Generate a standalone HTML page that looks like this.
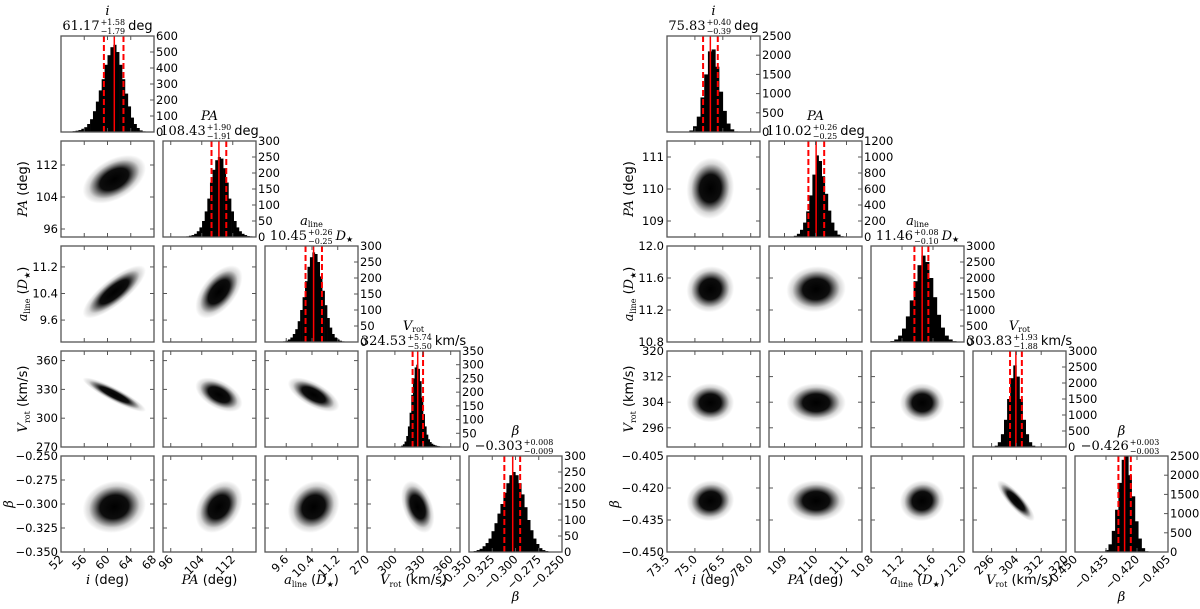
<!DOCTYPE html>
<html><head><meta charset="utf-8"><style>
html,body{margin:0;padding:0;background:#fff;}
svg{display:block;font-family:"DejaVu Sans","Liberation Sans",sans-serif;}
.serif{font-family:"DejaVu Serif","Liberation Serif",serif;}
</style></head><body>
<svg id="chart" width="1200" height="609" viewBox="0 0 1200 609" xmlns="http://www.w3.org/2000/svg">
<defs>
<radialGradient id="cloud" cx="0.5" cy="0.5" r="0.5">
<stop offset="0" stop-color="#000" stop-opacity="1"/>
<stop offset="0.45" stop-color="#000" stop-opacity="0.95"/>
<stop offset="0.62" stop-color="#000" stop-opacity="0.55"/>
<stop offset="0.8" stop-color="#000" stop-opacity="0.16"/>
<stop offset="1" stop-color="#000" stop-opacity="0"/>
</radialGradient>
</defs>
</svg>
<script>
// ===== Data: left corner plot =====
const namesL = ['i','PA','a','V','beta'];
const loL = [52, 94, 8.94, 270, -0.35];
const hiL = [68, 118, 11.83, 370, -0.25];
const ticksL = [[52,56,60,64,68],[96,104,112],[9.6,10.4,11.2],[270,300,330,360],[-0.35,-0.325,-0.3,-0.275,-0.25]];
const tickLabelsL = [['52','56','60','64','68'],['96','104','112'],['9.6','10.4','11.2'],['270','300','330','360'],['\u22120.350','\u22120.325','\u22120.300','\u22120.275','\u22120.250']];
const medL = [61.17, 108.43, 10.45, 324.53, -0.303];
const errPL = [1.58, 1.90, 0.26, 5.74, 0.008];
const errML = [1.79, 1.91, 0.25, 5.50, 0.009];
const valTextL = ['61.17','108.43','10.45','324.53','\u22120.303'];
const errPTextL = ['+1.58','+1.90','+0.26','+5.74','+0.008'];
const errMTextL = ['\u22121.79','\u22121.91','\u22120.25','\u22125.50','\u22120.009'];
const sdL = [1.7, 1.9, 0.25, 5.6, 0.0085];
const corrL = [[],[0.45],[0.8,0.55],[-0.9,-0.5,-0.65],[0.1,0.3,0.15,-0.4]];
const histLoL = [53.5, 100, 9.5, 305, -0.345];
const histHiL = [66.5, 117, 11.4, 350, -0.265];
const histL = [
 [3,5,8,12,20,30,50,80,130,190,260,330,420,480,530,545,500,420,330,240,160,90,50,25,10,4],
 [2,4,6,10,18,30,50,80,120,170,210,240,250,245,215,170,120,80,50,30,18,10,6,3,2],
 [2,4,8,14,25,40,65,100,140,190,235,265,280,275,250,205,160,115,75,45,25,14,8,4,2],
 [2,5,10,20,40,75,125,190,250,290,300,285,240,180,120,75,45,28,18,12,8,6,4,3,2],
 [3,6,10,18,28,42,65,90,120,150,185,215,240,250,240,215,180,140,100,68,42,25,12,6,3]];
const histMaxL = [600,300,300,350,300];
const histStepL = [100,50,50,50,50];

// ===== Data: right corner plot =====
const loR = [73.5, 108.5, 10.8, 290, -0.45];
const hiR = [78.5, 111.5, 12.0, 320, -0.405];
const ticksR = [[73.5,75,76.5,78],[109,110,111],[10.8,11.2,11.6,12.0],[296,304,312,320],[-0.45,-0.435,-0.42,-0.405]];
const tickLabelsR = [['73.5','75.0','76.5','78.0'],['109','110','111'],['10.8','11.2','11.6','12.0'],['296','304','312','320'],['\u22120.450','\u22120.435','\u22120.420','\u22120.405']];
const medR = [75.83, 110.02, 11.46, 303.83, -0.426];
const errPR = [0.40, 0.26, 0.08, 1.93, 0.003];
const errMR = [0.39, 0.25, 0.10, 1.88, 0.003];
const valTextR = ['75.83','110.02','11.46','303.83','\u22120.426'];
const errPTextR = ['+0.40','+0.26','+0.08','+1.93','+0.003'];
const errMTextR = ['\u22120.39','\u22120.25','\u22120.10','\u22121.88','\u22120.003'];
const sdR = [0.4, 0.3, 0.09, 1.9, 0.003];
const corrR = [[],[0.05],[0.05,0.05],[0.0,0.0,0.0],[0.05,0.0,0.05,-0.85]];
const histLoR = [74.5, 109.2, 10.95, 296, -0.437];
const histHiR = [77.3, 110.9, 11.95, 311, -0.4146];
const histR = [
 [10,40,150,400,900,1500,2100,2150,1700,1050,550,220,70,15],
 [5,15,40,90,180,320,520,780,1020,950,760,540,330,180,80,30,10],
 [5,10,30,80,200,420,800,1300,1900,2400,2700,2500,2000,1400,850,450,200,80,25,8],
 [10,40,150,400,850,1500,2150,2550,2200,1500,850,400,150,40,10],
 [10,50,200,550,1100,1800,2400,2500,2000,1450,800,350,100,20]];
const histMaxR = [2500,1200,3000,3000,2500];
const histStepR = [500,200,500,500,500];

const NS='http://www.w3.org/2000/svg';
const svg=document.getElementById('chart');
const PW=93, PH=96, DX=102, DY=105, TOP=36, TF=11.5;
function mk(tag, attrs, parent){const e=document.createElementNS(NS,tag);for(const k in attrs)e.setAttribute(k,attrs[k]);(parent||svg).appendChild(e);return e;}
let clipId=0;

function drawCorner(side, ox, P){
  const g=mk('g',{});
  
  
  const n=5;
  const sx=(k,v)=>ox+k*DX+(v-P.lo[k])/(P.hi[k]-P.lo[k])*PW;
  const syv=(r,k,v)=>TOP+r*DY+PH-(v-P.lo[k])/(P.hi[k]-P.lo[k])*PH;
  for(let r=0;r<n;r++){
    for(let c=0;c<=r;c++){
      const x0=ox+c*DX, y0=TOP+r*DY;
      const pg=mk('g',{},g);
      const cid='clip'+(clipId++);
      const cp=mk('clipPath',{id:cid},pg); mk('rect',{x:x0,y:y0,width:PW,height:PH},cp);
      const inner=mk('g',{'clip-path':'url(#'+cid+')'},pg);
      if(r===c){
        
        
        const cnt=P.hist[c], hl=P.hlo[c], hh=P.hhi[c], bw=(hh-hl)/cnt.length;
        const hy=v=>y0+PH-v/P.hmax[c]*PH;
        cnt.forEach((v,b)=>{
          const xa=sx(c,hl+b*bw), xb=sx(c,hl+(b+1)*bw);
          const bar=mk('rect',{x:xa,y:hy(v),width:Math.max(0.5,xb-xa+0.3),height:y0+PH-hy(v),fill:'#000'},inner);
          
          
        });
        const m=P.med[c];
        const ml=mk('line',{x1:sx(c,m),x2:sx(c,m),y1:y0,y2:y0+PH,stroke:'#f00','stroke-width':1.5},inner);
        
        
        [m-P.em[c], m+P.ep[c]].forEach(v=>{
          const dl=mk('line',{x1:sx(c,v),x2:sx(c,v),y1:y0,y2:y0+PH,stroke:'#f00','stroke-width':2,'stroke-dasharray':'6,3'},inner);
          
          
        });
        for(let t=0;t<=P.hmax[c];t+=P.hstep[c]){
          const yy=hy(t);
          mk('line',{x1:x0+PW-4,x2:x0+PW,y1:yy,y2:yy,stroke:'#555'},pg);
          const tl=mk('text',{x:x0+PW+2,y:yy+4,'font-size':TF,fill:'#000'},pg);
          tl.textContent=String(t);
          
          
        }
        const cx=x0+PW/2;
        const nm=mk('text',{x:cx,y:y0-21,'font-size':13,'font-style':'italic','text-anchor':'middle',class:'serif'},pg);
        
        
        if(P.names[c]==='a'){nm.textContent='a';mk('tspan',{'font-size':8,'font-style':'normal',dy:2},nm).textContent='line';}
        else if(P.names[c]==='V'){nm.textContent='V';mk('tspan',{'font-size':8,'font-style':'normal',dy:2},nm).textContent='rot';}
        else nm.textContent=P.names[c]==='beta'?'\u03b2':P.names[c];
        const tg=mk('g',{},pg);
        
        
        const vt=mk('text',{x:0,y:y0-6,'font-size':13,class:'serif'},tg); vt.textContent=P.val[c];
        const w1=vt.getComputedTextLength();
        const up=mk('text',{x:w1+1,y:y0-11,'font-size':8,class:'serif'},tg); up.textContent=P.ept[c];
        const dn=mk('text',{x:w1+1,y:y0-2,'font-size':8,class:'serif'},tg); dn.textContent=P.emt[c];
        const w2=Math.max(up.getComputedTextLength(),dn.getComputedTextLength());
        let w3=0;
        if(P.names[c]==='a'){
          const ut=mk('text',{x:w1+w2+4,y:y0-6,'font-size':13,'font-style':'italic',class:'serif'},tg);
          ut.textContent='D';
          mk('tspan',{'font-size':8,'font-style':'normal',dy:2},ut).textContent='\u2605';
          w3=ut.getComputedTextLength();
        } else {
          const ut=mk('text',{x:w1+w2+4,y:y0-6,'font-size':13},tg);
          ut.textContent=P.unit[c];
          w3=ut.getComputedTextLength();
        }
        tg.setAttribute('transform','translate('+(cx-(w1+w2+4+w3)/2)+',0)');
        P.ticks[c].forEach(t=>{const xx=sx(c,t);mk('line',{x1:xx,x2:xx,y1:y0+PH-4,y2:y0+PH,stroke:'#555'},pg);mk('line',{x1:xx,x2:xx,y1:y0,y2:y0+4,stroke:'#555'},pg);});
      } else {
        
        
        const cxp=sx(c,P.med[c]), cyp=syv(r,r,P.med[r]);
        const sxp=P.sd[c]/(P.hi[c]-P.lo[c])*PW, syp=P.sd[r]/(P.hi[r]-P.lo[r])*PH;
        const rho=P.corr[r][c];
        const a=sxp*sxp, d=syp*syp, b=-rho*sxp*syp;
        const tr=(a+d)/2, q=Math.sqrt(((a-d)/2)**2+b*b);
        const l1=tr+q, l2=Math.max(tr-q,0.3);
        const ang=0.5*Math.atan2(2*b,a-d)*180/Math.PI;
        const el=mk('ellipse',{cx:0,cy:0,rx:3.2*Math.sqrt(l1),ry:3.2*Math.sqrt(l2),fill:'url(#cloud)',transform:'translate('+cxp+','+cyp+') rotate('+ang+')'},inner);
        
        
        P.ticks[c].forEach(t=>{const xx=sx(c,t);mk('line',{x1:xx,x2:xx,y1:y0+PH-4,y2:y0+PH,stroke:'#555'},pg);mk('line',{x1:xx,x2:xx,y1:y0,y2:y0+4,stroke:'#555'},pg);});
        P.ticks[r].forEach(t=>{const yy=syv(r,r,t);mk('line',{x1:x0,x2:x0+4,y1:yy,y2:yy,stroke:'#555'},pg);mk('line',{x1:x0+PW-4,x2:x0+PW,y1:yy,y2:yy,stroke:'#555'},pg);});
        if(c===0){
          P.ticks[r].forEach((t,j)=>{
            const yy=syv(r,r,t);
            if(yy<y0-1||yy>y0+PH+1) return;
            const tl=mk('text',{x:x0-3,y:yy+4,'font-size':TF,'text-anchor':'end'},pg);
            tl.textContent=P.tl[r][j];
            
            
          });
        }
      }
      mk('rect',{x:x0,y:y0,width:PW,height:PH,fill:'none',stroke:'#555','stroke-width':1.3},pg);
      if(r===n-1){
        P.ticks[c].forEach((t,j)=>{
          const xx=sx(c,t);
          const ax=xx+3, ay=y0+PH+8;
          const tl=mk('text',{x:ax,y:ay,'font-size':TF,'text-anchor':'end',transform:'rotate(-45 '+ax+' '+ay+')'},pg);
          tl.textContent=P.tl[c][j];
          
          
        });
      }
    }
  }
  const labels=[['i',' (deg)'],['PA',' (deg)'],['a'],['V'],['\u03b2']];
  function axisLabel(k,x,y,rot,name){
    const t=mk('text',{x:x,y:y,'font-size':13,'text-anchor':'middle'},g);
    
    
    if(rot) t.setAttribute('transform','rotate(-90 '+x+' '+y+')');
    const L=labels[k];
    const s1=mk('tspan',{'font-style':'italic',class:'serif'},t); s1.textContent=L[0];
    if(k===2){mk('tspan',{'font-size':8,dy:3,class:'serif'},t).textContent='line';mk('tspan',{dy:-3},t).textContent=' (';mk('tspan',{'font-style':'italic',class:'serif'},t).textContent='D';mk('tspan',{'font-size':8,dy:3},t).textContent='\u2605';mk('tspan',{dy:-3},t).textContent=')';}
    else if(k===3){mk('tspan',{'font-size':8,dy:3,class:'serif'},t).textContent='rot';mk('tspan',{dy:-3},t).textContent=' (km/s)';}
    else if(L[1]) mk('tspan',{},t).textContent=L[1];
  }
  for(let k=0;k<5;k++){
    axisLabel(k, ox+k*DX+PW/2, k===4?601:584, false, 'x-axis-title-'+P.names[k]);
    if(k>0) axisLabel(k, k===4?ox-48:ox-34, TOP+k*DY+PH/2, true, 'y-axis-title-'+P.names[k]);
  }
}
drawCorner('left',61,{names:namesL,lo:loL,hi:hiL,ticks:ticksL,tl:tickLabelsL,med:medL,ep:errPL,em:errML,val:valTextL,ept:errPTextL,emt:errMTextL,sd:sdL,corr:corrL,hlo:histLoL,hhi:histHiL,hist:histL,hmax:histMaxL,hstep:histStepL,unit:['deg','deg','','km/s','']});
drawCorner('right',667,{names:namesL,lo:loR,hi:hiR,ticks:ticksR,tl:tickLabelsR,med:medR,ep:errPR,em:errMR,val:valTextR,ept:errPTextR,emt:errMTextR,sd:sdR,corr:corrR,hlo:histLoR,hhi:histHiR,hist:histR,hmax:histMaxR,hstep:histStepR,unit:['deg','deg','','km/s','']});
</script>
</body></html>
